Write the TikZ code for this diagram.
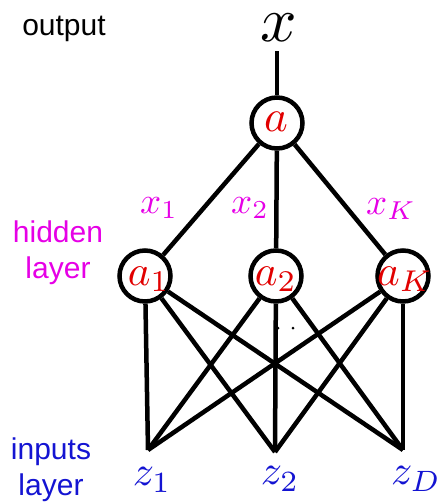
\documentclass[tikz,border=0pt]{standalone}
\usepackage{fontspec}
\usepackage{graphicx}
\newfontfamily\arialf{Liberation Sans}
\definecolor{mag}{RGB}{230,0,230}
\definecolor{myred}{RGB}{225,0,0}
\definecolor{myblue}{RGB}{20,20,210}
\newcommand{\scaledmath}[2]{\scalebox{#1}{$#2$}}
\begin{document}
\begin{tikzpicture}[x=1pt,y=-1pt,
  neuron/.style={circle,draw=black,line width=4.5pt,minimum size=51pt,inner sep=0pt},
  wire/.style={line width=4.5pt,line cap=butt},
  side/.style={font=\arialf\fontsize{30}{36}\selectfont,align=center,inner sep=0pt},
  wlab/.style={text=mag,inner sep=0pt},
  nlab/.style={text=myred,inner sep=0pt},
  zlab/.style={text=myblue,inner sep=0pt}]
\useasboundingbox (0,0) rectangle (444,504);
% output
\node[inner sep=0pt] (xo) at (279,28) {\scaledmath{6.4}{x}};
\coordinate (xt) at (277,51);
\node[neuron] (a) at (277,123) {};
\node[nlab] (at) at (276,122) {\scaledmath{4.5}{a}};
% hidden
\node[neuron] (h1) at (145,276) {};
\node[neuron] (h2) at (276,276) {};
\node[neuron] (hK) at (403,276) {};
\node[nlab] (t1) at (149,279) {\scaledmath{4.3}{a_1}};
\node[nlab] (t2) at (276,279) {\scaledmath{4.3}{a_2}};
\node[nlab] (tK) at (405,279) {\scaledmath{4.3}{a_K}};
% weight labels
\node[wlab] (x1) at (159,208) {\scaledmath{3.7}{x_1}};
\node[wlab] (x2) at (250,208) {\scaledmath{3.7}{x_2}};
\node[wlab] (xK) at (391,209) {\scaledmath{3.7}{x_K}};
% inputs
\coordinate (z1p) at (148,450);
\coordinate (z2p) at (275,452);
\coordinate (zDp) at (403,450);
\node[zlab] (z1) at (152,480) {\scaledmath{4.2}{z_1}};
\node[zlab] (z2) at (280,479) {\scaledmath{4.2}{z_2}};
\node[zlab] (zD) at (416,479) {\scaledmath{4.2}{z_D}};
% side labels
\node[side] (out) at (64,29) {output};
\node[side,text=mag] (hid) at (58,253) {hidden\\layer};
\node[side,text=myblue] (inp) at (51,470) {inputs\\layer};
% connectors
\draw[wire] (xt) -- (a);
\draw[wire] (a) -- (h1);
\draw[wire] (a) -- (h2);
\draw[wire] (a) -- (hK);
\foreach \h in {h1,h2,hK}{
  \foreach \z in {z1p,z2p,zDp}{
    \draw[wire] (\h) -- (\z);
  }
}
% dots
\fill (278,328) circle (1.5);
\fill (293,328) circle (1.5);
\end{tikzpicture}
\end{document}
